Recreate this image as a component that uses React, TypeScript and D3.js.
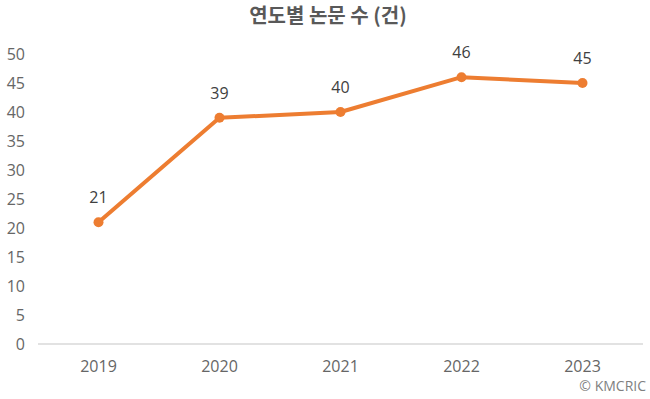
import React from 'react';
import * as d3 from 'd3';

const years = ['2019', '2020', '2021', '2022', '2023'];
const counts = [21, 39, 40, 46, 45];
const yTicks = [0, 5, 10, 15, 20, 25, 30, 35, 40, 45, 50];

const W = 650;
const H = 399;
const FONT = '"Open Sans", "Noto Sans CJK KR", sans-serif';

export default function App() {
    const x = d3.scaleBand().domain(years).range([38, 643]);
    const y = d3.scaleLinear().domain([0, 50]).range([344, 54]);
    const cx = (d: string) => (x(d) as number) + x.bandwidth() / 2;

    const line = d3.line<number>()
        .x((d, i) => cx(years[i]))
        .y(d => y(d));

    return (
        <svg width={W} height={H} style={{ position: 'absolute', left: 0, top: 0 }} fontFamily={FONT}>
            <rect width={W} height={H} fill="#fff" />
            <text x={328} y={23} textAnchor="middle" fontSize={20} fontWeight="bold" fill="#595959"
                fontFamily='"Noto Sans CJK KR", sans-serif'>
                연도별 논문 수 (건)
            </text>

            {/* y axis labels */}
            {yTicks.map(t => (
                <text key={t} x={25} y={y(t)} dy="0.36em" textAnchor="end" fontSize={16} fill="#666">{t}</text>
            ))}

            {/* baseline */}
            <line x1={x.range()[0]} x2={x.range()[1]} y1={y(0)} y2={y(0)} stroke="#d9d9d9" strokeWidth={1.5} />

            {/* x axis labels */}
            {years.map(d => (
                <text key={d} x={cx(d)} y={366} dy="0.36em" textAnchor="middle" fontSize={16} fill="#666">{d}</text>
            ))}

            <path d={line(counts) as string} fill="none" stroke="#ED7D31" strokeWidth={4} strokeLinejoin="round" />
            {counts.map((v, i) => (
                <circle key={i} cx={cx(years[i])} cy={y(v)} r={5} fill="#ED7D31" />
            ))}
            {counts.map((v, i) => (
                <text key={'l' + i} x={cx(years[i])} y={y(v) - 25} dy="0.36em" textAnchor="middle" fontSize={16} fill="#404040">{v}</text>
            ))}

            <text x={646} y={386} dy="0.36em" textAnchor="end" fontSize={14} fill="#7f7f7f">© KMCRIC</text>
        </svg>
    );
}
